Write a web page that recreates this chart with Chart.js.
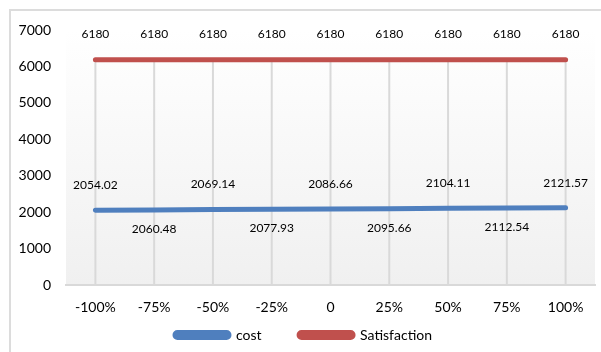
<!DOCTYPE html>
<html>
<head>
<meta charset="utf-8">
<script src="https://cdn.jsdelivr.net/npm/chart.js@4/dist/chart.umd.min.js"></script>
<style>
  html, body { margin: 0; padding: 0; background: #fff; }
  #wrap { width: 601px; height: 352px; position: relative; }
</style>
</head>
<body>
<div id="wrap"><canvas id="sensChart"></canvas></div>
<script>
// Sensitivity data: change in parameter vs. cost and satisfaction
const labels = ['-100%', '-75%', '-50%', '-25%', '0', '25%', '50%', '75%', '100%'];
const cost = [2054.02, 2060.48, 2069.14, 2077.93, 2086.66, 2095.66, 2104.11, 2112.54, 2121.57];
const satisfaction = [6180, 6180, 6180, 6180, 6180, 6180, 6180, 6180, 6180];
const yTicks = [0, 1000, 2000, 3000, 4000, 5000, 6000, 7000];

const FONT = 'Lato, "Open Sans", sans-serif';
const BLUE = '#4f7fbe';
const RED = '#c0504d';

// Frame around the whole chart + soft gradient behind the plot
const backdrop = {
    id: 'backdrop',
    beforeDraw(chart) {
        const ctx = chart.ctx;
        const a = chart.chartArea;
        ctx.save();
        ctx.strokeStyle = '#dcdcdc';
        ctx.lineWidth = 2;
        ctx.strokeRect(10, 10, 700, 700);
        const g = ctx.createLinearGradient(0, a.top, 0, a.bottom);
        g.addColorStop(0, '#ffffff');
        g.addColorStop(1, '#f0f0f0');
        ctx.fillStyle = g;
        ctx.fillRect(a.left, a.top, a.right - a.left, a.bottom - a.top);
        ctx.restore();
    }
};

// Drop lines from the top series down to the axis
const dropLines = {
    id: 'dropLines',
    beforeDatasetsDraw(chart) {
        const ctx = chart.ctx;
        const x = chart.scales.x, y = chart.scales.y;
        ctx.save();
        ctx.strokeStyle = '#d9d9d9';
        ctx.lineWidth = 2;
        satisfaction.forEach((v, i) => {
            const px = x.getPixelForValue(i);
            ctx.beginPath();
            ctx.moveTo(px, y.getPixelForValue(Math.max(v, cost[i])));
            ctx.lineTo(px, y.getPixelForValue(0));
            ctx.stroke();
        });
        ctx.restore();
    }
};

// Value labels: satisfaction above, cost alternating above/below
const valueLabels = {
    id: 'valueLabels',
    afterDatasetsDraw(chart) {
        const ctx = chart.ctx;
        const x = chart.scales.x, y = chart.scales.y;
        ctx.save();
        ctx.font = '12px ' + FONT;
        ctx.fillStyle = '#000';
        ctx.textAlign = 'center';
        ctx.textBaseline = 'middle';
        satisfaction.forEach((v, i) => {
            ctx.fillText(String(v), x.getPixelForValue(i), y.getPixelForValue(v) - 26);
        });
        cost.forEach((v, i) => {
            const off = i % 2 === 0 ? -25 : 19;
            ctx.fillText(v.toFixed(2), x.getPixelForValue(i), y.getPixelForValue(v) + off);
        });
        ctx.restore();
    }
};

new Chart(document.getElementById('sensChart'), {
    type: 'line',
    data: {
        labels: labels,
        datasets: [{
            label: 'cost',
            data: cost,
            borderColor: BLUE,
            backgroundColor: BLUE,
            borderWidth: 5,
            borderCapStyle: 'round',
            pointRadius: 0,
            tension: 0
        }, {
            label: 'Satisfaction',
            data: satisfaction,
            borderColor: RED,
            backgroundColor: RED,
            borderWidth: 5,
            borderCapStyle: 'round',
            pointRadius: 0,
            tension: 0
        }]
    },
    options: {
        responsive: true,
        maintainAspectRatio: false,
        animation: false,
        layout: { padding: { left: 12, right: 6, top: 30, bottom: 0 } },
        scales: {
            x: {
                offset: true,
                afterFit(scale) { scale.height = 37; },
                grid: { display: false, drawTicks: false },
                border: { display: true, color: '#d9d9d9', width: 2 },
                ticks: { color: '#000', font: { family: FONT, size: 14 }, padding: 14, maxRotation: 0 }
            },
            y: {
                min: 0,
                max: 7000,
                afterBuildTicks(scale) {
                    scale.ticks = yTicks.map(v => ({ value: v }));
                },
                afterFit(scale) { scale.width = 54; },
                grid: { display: false, drawTicks: false },
                border: { display: false },
                ticks: {
                    color: '#000',
                    font: { family: FONT, size: 14 },
                    padding: 15,
                    callback: v => String(v)
                }
            }
        },
        plugins: {
            legend: {
                position: 'bottom',
                labels: {
                    color: '#000',
                    font: { family: FONT, size: 14 },
                    boxWidth: 54,
                    boxHeight: 5,
                    useBorderRadius: true,
                    borderRadius: 2.5,
                    padding: 6,
                    // widen the gap after the first entry with trailing em spaces
                    generateLabels(chart) {
                        const items = Chart.defaults.plugins.legend.labels.generateLabels(chart);
                        items.forEach((it, i) => {
                            if (i < items.length - 1) it.text += '\u2003\u2003\u2003';
                        });
                        return items;
                    }
                }
            },
            tooltip: { enabled: false }
        }
    },
    plugins: [backdrop, dropLines, valueLabels]
});
</script>
</body>
</html>
